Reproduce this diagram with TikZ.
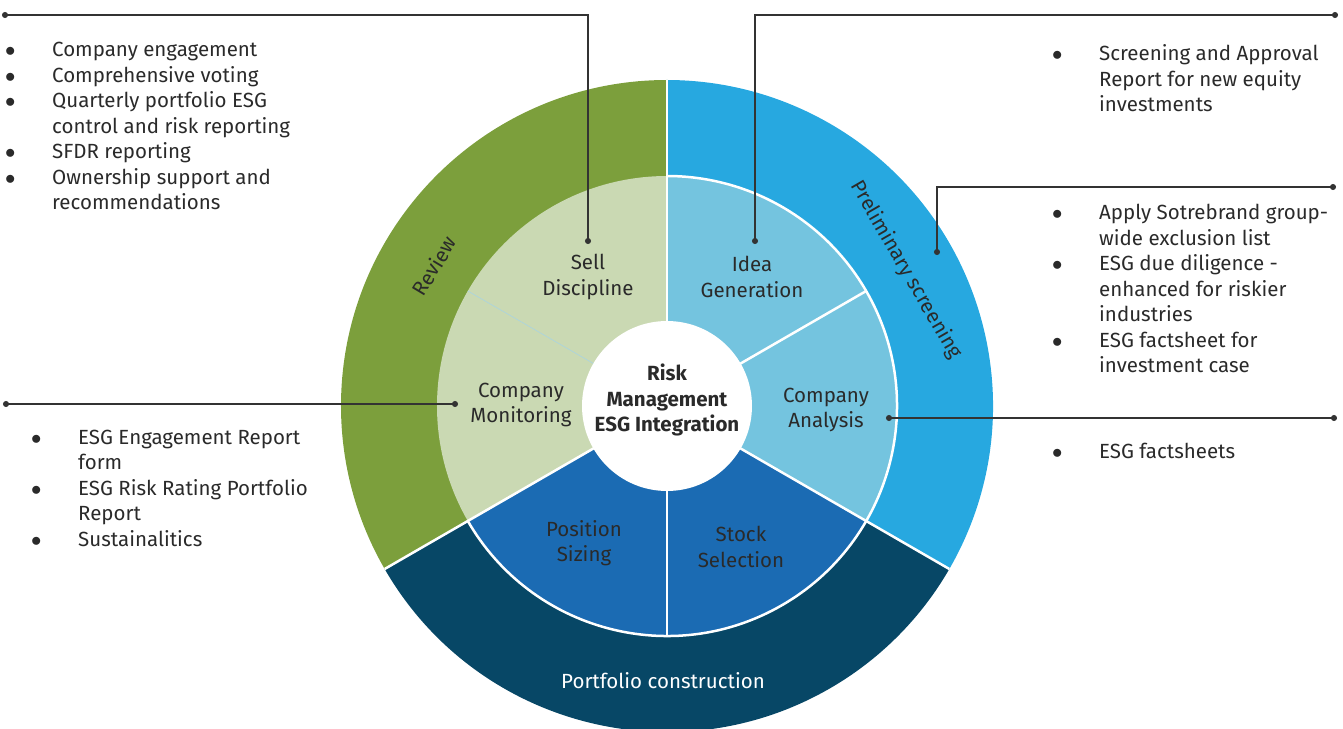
\documentclass[tikz,border=0pt]{standalone}
\usepackage{fontspec}
\setmainfont{Fira Sans}
\usetikzlibrary{arrows.meta}

\definecolor{reviewgreen}{HTML}{7C9F3C}
\definecolor{palegreen}{HTML}{CAD9B3}
\definecolor{screenblue}{HTML}{27A8E0}
\definecolor{paleblue}{HTML}{74C4DF}
\definecolor{navyblue}{HTML}{074766}
\definecolor{midblue}{HTML}{1B6BB3}
\definecolor{inktext}{HTML}{2A2A2A}
\definecolor{leadgray}{HTML}{333333}
\definecolor{faintblue}{HTML}{A8D4E2}

\newcommand{\diagfont}{\fontsize{20.5}{25.5}\selectfont}
\newcommand{\blt}{$\bullet$}

\tikzset{
  every node/.style={font=\diagfont, text=inktext},
  seclabel/.style={align=center, inner sep=0pt},
  ringlabel/.style={inner sep=0pt},
  sep/.style={white, line width=2.5pt},
  callout/.style={leadgray, line width=1.2pt, {Circle[length=6pt]}-{Circle[length=6pt]}},
  bullets/.style={anchor=base west, inner sep=0pt},
}

\begin{document}
\begin{tikzpicture}[x=1pt,y=1pt]
\clip (-667,-322) rectangle (676,406);

% outer ring
\fill[reviewgreen] (0,0) -- (90:326) arc[start angle=90,end angle=210,radius=326] -- cycle;
\fill[navyblue] (0,0) -- (210:326) arc[start angle=210,end angle=330,radius=326] -- cycle;
\fill[screenblue] (0,0) -- (-30:326) arc[start angle=-30,end angle=90,radius=326] -- cycle;

% inner ring
\fill[palegreen] (0,0) -- (90:230) arc[start angle=90,end angle=210,radius=230] -- cycle;
\fill[midblue] (0,0) -- (210:230) arc[start angle=210,end angle=330,radius=230] -- cycle;
\fill[paleblue] (0,0) -- (-30:230) arc[start angle=-30,end angle=90,radius=230] -- cycle;

% separators
\draw[sep] (90:80) -- (90:326);
\draw[sep] (210:80) -- (210:326);
\draw[sep] (330:80) -- (330:326);
\draw[sep] (30:80) -- (30:230);
\draw[sep] (270:80) -- (270:230);
\draw[sep] (-150:230) arc[start angle=-150,end angle=90,radius=230];
\draw[faintblue, line width=0.6pt] (150:80) -- (150:230);

\fill[white] (0,0) circle[radius=85];

% labels
\node[seclabel, font=\diagfont\bfseries] (core) at (0,6) {Risk\\Management\\ESG Integration};
\node[seclabel] (sell) at (-79,129) {Sell\\Discipline};
\node[seclabel] (idea) at (85,129) {Idea\\Generation};
\node[seclabel] (analysis) at (159,-4) {Company\\Analysis};
\node[seclabel] (selection) at (74,-141) {Stock\\Selection};
\node[seclabel] (sizing) at (-83,-137) {Position\\Sizing};
\node[seclabel] (monitoring) at (-146,1) {Company\\Monitoring};
\node[ringlabel, text=white] (portfolio) at (-4,-275) {Portfolio construction};
\node[ringlabel, rotate=59] (review) at (149:272) {Review};
\node[ringlabel, rotate=-60] (screening) at (29.6:275) {Preliminary screening};

% lists
\node[bullets] (reviewlist) at (-662,349) {\begin{tabular}[t]{@{}p{47pt}@{}l@{}}
\blt & Company engagement\\
\blt & Comprehensive voting\\
\blt & Quarterly portfolio ESG\\
 & control and risk reporting\\
\blt & SFDR reporting\\
\blt & Ownership support and\\
 & recommendations
\end{tabular}};
\node[bullets] (idealist) at (385,345) {\begin{tabular}[t]{@{}p{47pt}@{}l@{}}
\blt & Screening and Approval\\
 & Report for new equity\\
 & investments
\end{tabular}};
\node[bullets] (screenlist) at (385,186) {\begin{tabular}[t]{@{}p{47pt}@{}l@{}}
\blt & Apply Sotrebrand group-\\
 & wide exclusion list\\
\blt & ESG due diligence -\\
 & enhanced for riskier\\
 & industries\\
\blt & ESG factsheet for\\
 & investment case
\end{tabular}};
\node[bullets] (analysislist) at (385,-52) {\begin{tabular}[t]{@{}p{47pt}@{}l@{}}
\blt & ESG factsheets
\end{tabular}};
\node[bullets] (monitorlist) at (-636,-38) {\begin{tabular}[t]{@{}p{47pt}@{}l@{}}
\blt & ESG Engagement Report\\
 & form\\
\blt & ESG Risk Rating Portfolio\\
 & Report\\
\blt & Sustainalitics
\end{tabular}};

% callout ends
\coordinate (sellend) at (-665,391);
\coordinate (sellpin) at (-79,162);
\coordinate (ideaend) at (671,391);
\coordinate (ideapin) at (88,162);
\coordinate (screenend) at (669,219);
\coordinate (screenpin) at (270,151);
\coordinate (monitorend) at (-664,2);
\coordinate (monitorpin) at (-209,2);
\coordinate (analysispin) at (219,-12);
\coordinate (analysisend) at (670,-12);

\draw[callout] (sellend) -| (sellpin);
\draw[callout] (ideapin) |- (ideaend);
\draw[callout] (screenpin) |- (screenend);
\draw[callout] (monitorend) -- (monitorpin);
\draw[callout] (analysispin) -- (analysisend);

\end{tikzpicture}
\end{document}
